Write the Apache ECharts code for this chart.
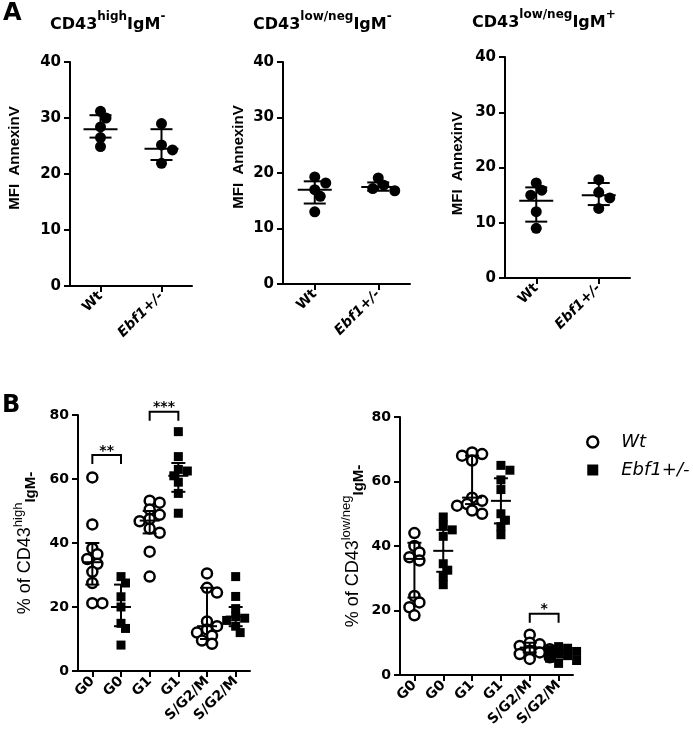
<!DOCTYPE html>
<html><head><meta charset="utf-8">
<script src="https://cdn.jsdelivr.net/npm/echarts@6/dist/echarts.min.js"></script>
<style>html,body{margin:0;padding:0;background:#fff}#c{width:693px;height:750px}</style>
</head><body><div id="c"></div><script>
// ---------- data ----------
const aCats = ['Wt', 'Ebf1+/-'];
const a1Wt = [28.4, 31.2, 30.0, 26.5, 24.9];
const a1Ebf = [29.0, 25.2, 24.3, 21.9];
const a1Center = [28.0, 24.5];
const a1Low = [26.5, 22.5];
const a1High = [30.5, 28.0];

const a2Wt = [19.3, 18.2, 17.0, 15.8, 13.0];
const a2Ebf = [19.1, 17.8, 17.2, 16.8];
const a2Center = [17.0, 17.5];
const a2Low = [14.5, 16.8];
const a2High = [18.5, 18.3];

const a3Wt = [17.2, 15.9, 15.0, 12.0, 9.0];
const a3Ebf = [17.8, 15.5, 14.5, 12.6];
const a3Center = [14.0, 15.0];
const a3Low = [10.2, 13.2];
const a3High = [16.4, 17.2];

const aTicks = [0, 10, 20, 30, 40];

const bCats = ['G0', 'G0', 'G1', 'G1', 'S/G2/M', 'S/G2/M'];
const b1WtG0 = [60.5, 45.8, 38.3, 36.5, 35.0, 33.5, 31.0, 27.5, 21.2, 21.2];
const b1EbfG0 = [29.5, 27.5, 23.2, 20.0, 14.9, 13.3, 8.1];
const b1WtG1 = [53.2, 52.6, 50.5, 48.8, 47.5, 46.8, 44.5, 43.2, 37.3, 29.5];
const b1EbfG1 = [74.8, 67.0, 63.0, 62.5, 61.0, 59.0, 55.5, 49.3];
const b1WtS = [30.5, 26.0, 24.5, 15.5, 14.0, 13.0, 12.0, 11.0, 9.5, 8.5];
const b1EbfS = [29.5, 23.3, 19.5, 17.0, 16.5, 15.8, 14.0, 12.0];
const b1Center = [34, 20, 47, 61, 14, 17];
const b1Low = [27, 14, 43, 56, 10, 14];
const b1High = [40, 27, 50, 65, 26, 20];
const b1SigFrom = [0, 2];
const b1SigTo = [1, 3];
const b1SigY = [67.5, 81];
const b1SigText = ['**', '***'];

const b2WtG0 = [44.0, 40.0, 38.0, 36.5, 35.5, 24.5, 22.5, 21.0, 18.5];
const b2EbfG0 = [49.0, 46.5, 45.0, 43.0, 34.5, 32.5, 30.5, 28.0];
const b2WtG1 = [69.0, 68.5, 68.0, 66.5, 55.0, 54.0, 53.0, 52.5, 51.0, 50.0];
const b2EbfG1 = [65.0, 63.5, 60.5, 57.5, 50.0, 48.0, 46.0, 43.5];
const b2WtS = [12.5, 10.0, 9.5, 9.0, 8.0, 7.5, 7.0, 6.5, 5.5, 5.0];
const b2EbfS = [8.8, 8.3, 7.8, 7.3, 6.5, 6.0, 5.2, 4.5, 3.6];
const b2Center = [36, 38.5, 55, 54, 8.5, 6.7];
const b2Low = [24, 32, 53, 47, 7, 5.5];
const b2High = [41, 45, 68, 61, 10, 7.8];
const b2SigFrom = [4];
const b2SigTo = [5];
const b2SigY = [19];
const b2SigText = ['*'];

const bTicks = [0, 20, 40, 60, 80];

// ---------- layout / style ----------
const H = "'DejaVu Sans', sans-serif";
const V = "'Liberation Sans', Arial, sans-serif";
const grids = [
  {left: 70, top: 62, width: 122, height: 224},
  {left: 283, top: 62, width: 127, height: 222},
  {left: 505, top: 57, width: 125, height: 221},
  {left: 78, top: 415, width: 172, height: 256},
  {left: 400, top: 417, width: 173, height: 258}
];
const yMax = [40, 40, 40, 80, 80];

// simple beeswarm: horizontal pixel offsets so markers do not pile up
function swarm(vals, pxPerUnit, d) {
  const order = vals.map((v, i) => i).sort((a, b) => vals[b] - vals[a]);
  const placed = [];
  const off = new Array(vals.length).fill(0);
  for (const i of order) {
    const y = vals[i] * pxPerUnit;
    for (let k = 0; k < 30; k++) {
      const dx = k === 0 ? 0 : (k % 2 ? 1 : -1) * Math.ceil(k / 2) * d * 0.5;
      if (placed.every(p => Math.hypot(p.x - dx, p.y - y) >= d * 0.75)) {
        off[i] = dx; placed.push({x: dx, y}); break;
      }
    }
  }
  return off;
}

function dots(gi, groups, size, symbol, style, name) {
  const ppu = grids[gi].height / yMax[gi];
  const data = [];
  groups.forEach(([cat, vals]) => {
    const off = swarm(vals, ppu, size);
    vals.forEach((v, j) => data.push({value: [cat, v], symbolOffset: [off[j], 0]}));
  });
  return {type: 'scatter', name, xAxisIndex: gi, yAxisIndex: gi, symbol, symbolSize: size,
    itemStyle: Object.assign({opacity: 1}, style), z: 3, silent: true, data};
}

function errBars(gi, center, low, high, hwMean, hwCap) {
  return {
    type: 'custom', xAxisIndex: gi, yAxisIndex: gi, z: 5, silent: true,
    data: center.map((c, i) => [i, c, low[i], high[i]]),
    encode: {x: 0, y: [1, 2, 3]},
    renderItem(params, api) {
      const i = api.value(0);
      const pc = api.coord([i, api.value(1)]);
      const pl = api.coord([i, api.value(2)]);
      const ph = api.coord([i, api.value(3)]);
      const st = {stroke: '#000', lineWidth: 2};
      return {type: 'group', children: [
        {type: 'line', shape: {x1: pc[0], y1: ph[1], x2: pc[0], y2: pl[1]}, style: st},
        {type: 'line', shape: {x1: pc[0] - hwCap, y1: ph[1], x2: pc[0] + hwCap, y2: ph[1]}, style: st},
        {type: 'line', shape: {x1: pc[0] - hwCap, y1: pl[1], x2: pc[0] + hwCap, y2: pl[1]}, style: st},
        {type: 'line', shape: {x1: pc[0] - hwMean, y1: pc[1], x2: pc[0] + hwMean, y2: pc[1]}, style: st}
      ]};
    }
  };
}

function brackets(gi, from, to, ys, texts) {
  return {
    type: 'custom', xAxisIndex: gi, yAxisIndex: gi, z: 6, clip: false, silent: true,
    data: from.map((f, i) => [f, to[i], ys[i]]),
    encode: {x: [0, 1], y: 2},
    renderItem(params, api) {
      const p0 = api.coord([api.value(0), api.value(2)]);
      const p1 = api.coord([api.value(1), api.value(2)]);
      return {type: 'group', children: [
        {type: 'polyline', shape: {points: [[p0[0], p0[1] + 9], [p0[0], p0[1]], [p1[0], p1[1]], [p1[0], p1[1] + 9]]},
          style: {stroke: '#000', lineWidth: 2, fill: null}},
        {type: 'text', x: (p0[0] + p1[0]) / 2, y: p0[1] + 3,
          style: {text: texts[params.dataIndex], fontFamily: H, fontWeight: 'bold', fontSize: 14,
            fill: '#000', align: 'center', verticalAlign: 'bottom'}}
      ]};
    }
  };
}

const axLine = {show: true, lineStyle: {color: '#000', width: 2}};
const axTick = {show: true, length: 6, lineStyle: {color: '#000', width: 2}};

const xAxes = grids.map((g, gi) => ({
  type: 'category', gridIndex: gi, data: gi < 3 ? aCats : bCats,
  axisLine: axLine, axisTick: Object.assign({alignWithLabel: true}, axTick),
  axisLabel: {
    rotate: 45, margin: 8, interval: 0,
    formatter: v => v === 'Ebf1+/-' ? '{i|Ebf1+/-}' : '{n|' + v + '}',
    rich: {
      n: {fontFamily: H, fontWeight: 'bold', fontSize: 14, color: '#000'},
      i: {fontFamily: H, fontWeight: 'bold', fontStyle: 'italic', fontSize: 14, color: '#000'}
    }
  }
}));

const richB = {
  m: {fontFamily: V, fontSize: 18, color: '#000', lineHeight: 26, verticalAlign: 'middle'},
  s: {fontFamily: V, fontSize: 13, color: '#000', lineHeight: 14, verticalAlign: 'top'},
  b: {fontFamily: V, fontSize: 15, fontWeight: 'bold', color: '#000', lineHeight: 18, verticalAlign: 'bottom'}
};
const yNames = [
  {name: 'MFI  AnnexinV', gap: 48},
  {name: 'MFI  AnnexinV', gap: 37},
  {name: 'MFI  AnnexinV', gap: 40},
  {name: '{m|% of CD43}{s|high}{b|IgM-}', gap: 40},
  {name: '{m|% of CD43}{s|low/neg}{b|IgM-}', gap: 34}
];
const yAxes = grids.map((g, gi) => ({
  type: 'value', gridIndex: gi, min: 0, max: yMax[gi],
  interval: gi < 3 ? aTicks[1] - aTicks[0] : bTicks[1] - bTicks[0],
  splitLine: {show: false}, axisLine: axLine, axisTick: axTick,
  axisLabel: {fontFamily: H, fontWeight: 'bold', fontSize: gi < 3 ? 15 : 14, color: '#000', margin: 9},
  name: yNames[gi].name, nameLocation: 'middle', nameGap: yNames[gi].gap,
  nameTextStyle: gi < 3
    ? {fontFamily: V, fontWeight: 'bold', fontSize: 15, color: '#000', padding: [0, 0, 0, gi === 2 ? 8 : 32]}
    : {rich: richB}
}));

const richT = {
  m: {fontFamily: H, fontWeight: 'bold', fontSize: 16, color: '#000', lineHeight: 22, verticalAlign: 'bottom'},
  s: {fontFamily: H, fontWeight: 'bold', fontSize: 12, color: '#000', lineHeight: 13, verticalAlign: 'top'}
};

const wtStyle = {color: '#fff', borderColor: '#000', borderWidth: 2.5};
const ebStyle = {color: '#000'};
const aDot = {color: '#000'};

const series = [
  dots(0, [[0, a1Wt], [1, a1Ebf]], 11, 'circle', aDot, 'A1'),
  errBars(0, a1Center, a1Low, a1High, 17, 11),
  dots(1, [[0, a2Wt], [1, a2Ebf]], 11, 'circle', aDot, 'A2'),
  errBars(1, a2Center, a2Low, a2High, 17, 11),
  dots(2, [[0, a3Wt], [1, a3Ebf]], 11, 'circle', aDot, 'A3'),
  errBars(2, a3Center, a3Low, a3High, 17, 11),
  dots(3, [[0, b1WtG0], [2, b1WtG1], [4, b1WtS]], 10, 'circle', wtStyle, 'Wt'),
  dots(3, [[1, b1EbfG0], [3, b1EbfG1], [5, b1EbfS]], 9, 'rect', ebStyle, 'Ebf1+/-'),
  errBars(3, b1Center, b1Low, b1High, 10, 7),
  brackets(3, b1SigFrom, b1SigTo, b1SigY, b1SigText),
  dots(4, [[0, b2WtG0], [2, b2WtG1], [4, b2WtS]], 10, 'circle', wtStyle, 'Wt'),
  dots(4, [[1, b2EbfG0], [3, b2EbfG1], [5, b2EbfS]], 9, 'rect', ebStyle, 'Ebf1+/-'),
  errBars(4, b2Center, b2Low, b2High, 10, 7),
  brackets(4, b2SigFrom, b2SigTo, b2SigY, b2SigText)
];

const option = {
  animation: false,
  backgroundColor: '#fff',
  title: [
    {text: 'A', left: 3, top: 2, padding: 0, textStyle: {fontFamily: H, fontWeight: 'bold', fontSize: 24, color: '#000'}},
    {text: 'B', left: 2, top: 394, padding: 0, textStyle: {fontFamily: H, fontWeight: 'bold', fontSize: 24, color: '#000'}},
    {text: '{m|CD43}{s|high}{m|IgM}{s|-}', left: 50, top: 11, padding: 0, textStyle: {rich: richT}},
    {text: '{m|CD43}{s|low/neg}{m|IgM}{s|-}', left: 253, top: 11, padding: 0, textStyle: {rich: richT}},
    {text: '{m|CD43}{s|low/neg}{m|IgM}{s|+}', left: 472, top: 9, padding: 0, textStyle: {rich: richT}}
  ],
  legend: {
    orient: 'vertical', left: 581, top: 427, itemWidth: 11, itemHeight: 11, itemGap: 8,
    selectedMode: false,
    textStyle: {fontFamily: H, fontStyle: 'italic', fontSize: 18, color: '#000', lineHeight: 20, padding: [0, 0, 0, 18]},
    data: [
      {name: 'Wt', icon: 'circle', itemStyle: {color: '#fff', borderColor: '#000', borderWidth: 2.5}},
      {name: 'Ebf1+/-', icon: 'rect', itemStyle: {color: '#000', borderWidth: 0}}
    ]
  },
  grid: grids,
  xAxis: xAxes,
  yAxis: yAxes,
  series
};

const chart = echarts.init(document.getElementById('c'), null, {renderer: 'canvas'});
chart.setOption(option);
</script></body></html>
